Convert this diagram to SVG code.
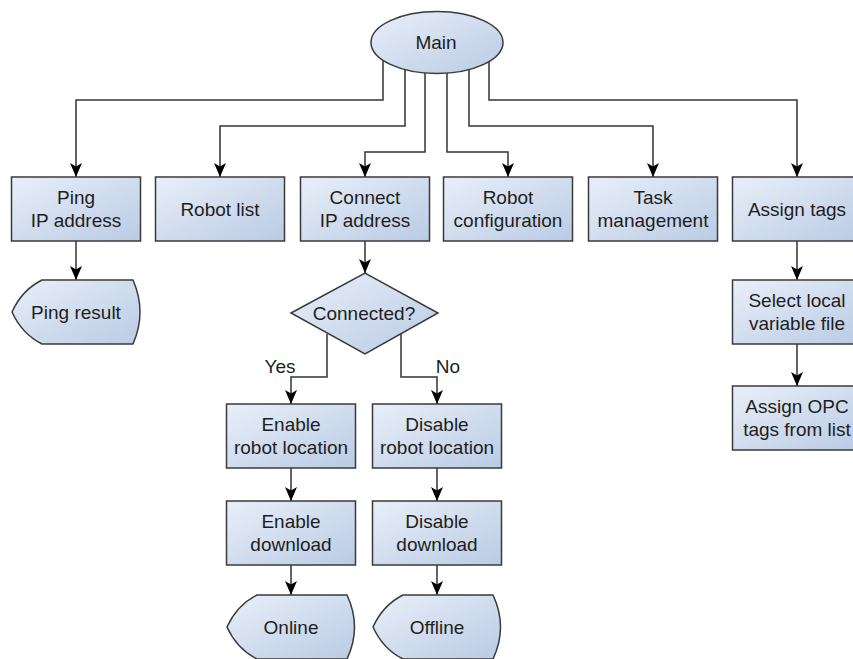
<svg xmlns="http://www.w3.org/2000/svg" width="853" height="659" viewBox="0 0 853 659">
  <style>
    .node { fill: url(#fillGrad); stroke: #3a3a3a; stroke-width: 1.5; }
    .label { font-family: "Liberation Sans", Arial, sans-serif; font-size: 19px; fill: #1e1e1e; text-anchor: middle; }
    .edge { fill: none; stroke: #333333; stroke-width: 1.5; }
    .arrow { marker-end: url(#arrowHead); }
  </style>
  <defs>
    <linearGradient id="fillGrad" x1="0" y1="0" x2="1" y2="1">
      <stop offset="0" stop-color="#e9eff8"/>
      <stop offset="1" stop-color="#b9cbe5"/>
    </linearGradient>
    <marker id="arrowHead" markerUnits="userSpaceOnUse" viewBox="0 0 14 12" markerWidth="14" markerHeight="12" refX="14" refY="6" orient="auto">
      <path d="M0,0 L14,6 L0,12 L3.5,6 Z" fill="#000000"/>
    </marker>
  </defs>

  <rect width="853" height="659" fill="#ffffff"/>

  <!-- connectors -->
  <g id="connectors">
    <path class="edge arrow" d="M383,60 V100 H76 V177"/>
    <path class="edge arrow" d="M405,60 V126 H220 V177"/>
    <path class="edge arrow" d="M425,60 V152 H365 V177"/>
    <path class="edge arrow" d="M447,60 V152 H508 V177"/>
    <path class="edge arrow" d="M469,60 V126 H653 V177"/>
    <path class="edge arrow" d="M489,60 V100 H797 V177"/>
    <path class="edge arrow" d="M76,241 V280"/>
    <path class="edge arrow" d="M365,241 V273"/>
    <path class="edge arrow" d="M327,334 V377 H291 V404"/>
    <path class="edge arrow" d="M401,334 V377 H437 V404"/>
    <path class="edge arrow" d="M291,468 V501"/>
    <path class="edge arrow" d="M291,565 V595"/>
    <path class="edge arrow" d="M437,468 V501"/>
    <path class="edge arrow" d="M437,565 V595"/>
    <path class="edge arrow" d="M797,241 V280"/>
    <path class="edge arrow" d="M797,344 V386"/>
    <text class="label" x="280" y="373">Yes</text>
    <text class="label" x="448" y="373">No</text>
  </g>

  <!-- start -->
  <g id="main">
    <ellipse class="node" cx="437" cy="42.5" rx="66" ry="31"/>
    <text class="label" x="436" y="49">Main</text>
  </g>

  <!-- first row -->
  <g id="ping-ip">
    <rect class="node" x="11.5" y="177" width="129" height="64"/>
    <text class="label" x="76" y="204">Ping</text>
    <text class="label" x="76" y="227">IP address</text>
  </g>
  <g id="robot-list">
    <rect class="node" x="155.5" y="177" width="129" height="64"/>
    <text class="label" x="220" y="215.5">Robot list</text>
  </g>
  <g id="connect-ip">
    <rect class="node" x="300.5" y="177" width="129" height="64"/>
    <text class="label" x="365" y="204">Connect</text>
    <text class="label" x="365" y="227">IP address</text>
  </g>
  <g id="robot-config">
    <rect class="node" x="443.5" y="177" width="129" height="64"/>
    <text class="label" x="508" y="204">Robot</text>
    <text class="label" x="508" y="227">configuration</text>
  </g>
  <g id="task-management">
    <rect class="node" x="588.5" y="177" width="129" height="64"/>
    <text class="label" x="653" y="204">Task</text>
    <text class="label" x="653" y="227">management</text>
  </g>
  <g id="assign-tags">
    <rect class="node" x="732.5" y="177" width="129" height="64"/>
    <text class="label" x="797" y="215.5">Assign tags</text>
  </g>

  <!-- ping branch -->
  <g id="ping-result">
    <path class="node" d="M12,312 Q22,290 42,280 L133,280 Q147,312 133,344 L42,344 Q22,334 12,312 Z"/>
    <text class="label" x="76" y="318.5">Ping result</text>
  </g>

  <!-- connect branch -->
  <g id="connected">
    <polygon class="node" points="291,313 365,273 438,313 365,354"/>
    <text class="label" x="364" y="320">Connected?</text>
  </g>
  <g id="enable-location">
    <rect class="node" x="226.5" y="404" width="129" height="64"/>
    <text class="label" x="291" y="431">Enable</text>
    <text class="label" x="291" y="454">robot location</text>
  </g>
  <g id="disable-location">
    <rect class="node" x="372.5" y="404" width="129" height="64"/>
    <text class="label" x="437" y="431">Disable</text>
    <text class="label" x="437" y="454">robot location</text>
  </g>
  <g id="enable-download">
    <rect class="node" x="226.5" y="501" width="129" height="64"/>
    <text class="label" x="291" y="528">Enable</text>
    <text class="label" x="291" y="551">download</text>
  </g>
  <g id="disable-download">
    <rect class="node" x="372.5" y="501" width="129" height="64"/>
    <text class="label" x="437" y="528">Disable</text>
    <text class="label" x="437" y="551">download</text>
  </g>
  <g id="online">
    <path class="node" d="M227,627 Q237,605 257,595 L347,595 Q362,627 347,659 L257,659 Q237,649 227,627 Z"/>
    <text class="label" x="291" y="634">Online</text>
  </g>
  <g id="offline">
    <path class="node" d="M373,627 Q383,605 403,595 L493,595 Q508,627 493,659 L403,659 Q383,649 373,627 Z"/>
    <text class="label" x="437" y="634">Offline</text>
  </g>

  <!-- tag branch -->
  <g id="select-variable-file">
    <rect class="node" x="732.5" y="280" width="129" height="64"/>
    <text class="label" x="797" y="307">Select local</text>
    <text class="label" x="797" y="330">variable file</text>
  </g>
  <g id="assign-opc-tags">
    <rect class="node" x="732.5" y="386" width="129" height="64"/>
    <text class="label" x="797" y="413">Assign OPC</text>
    <text class="label" x="797" y="436">tags from list</text>
  </g>
</svg>
